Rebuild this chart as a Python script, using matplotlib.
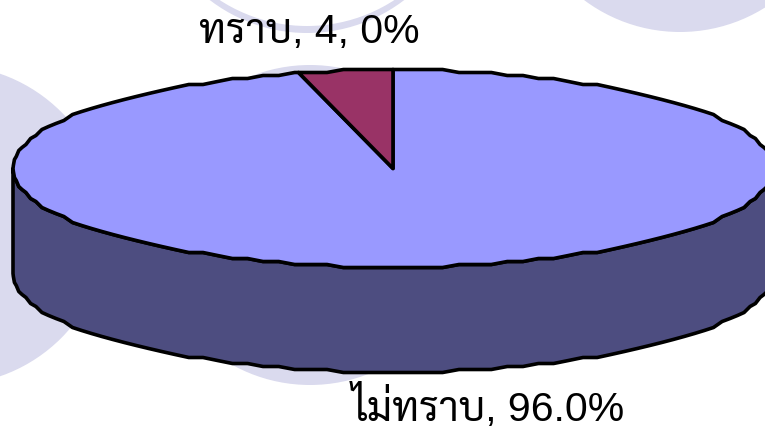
import numpy as np
import matplotlib
matplotlib.use("Agg")
import matplotlib.pyplot as plt
from matplotlib.patches import Circle, Polygon

# Data
labels = ["ไม่ทราบ", "ทราบ"]
values = [96.0, 4.0]
label_texts = ["ไม่ทราบ, 96.0%", "ทราบ, 4, 0%"]

# Pie geometry in pixels
cx, cy = 393, 168.5
rx, ry = 380, 98.5
depth = 105

top_color = "#9999FF"
side_color = "#4D4D80"
slice_color = "#993366"
bg_color = "#DADAEE"
font_list = ["Liberation Sans", "Sarabun", "DejaVu Sans"]

fig = plt.figure(figsize=(7.65, 4.3), dpi=100)
ax = fig.add_axes([0, 0, 1, 1])
ax.set_xlim(0, 765)
ax.set_ylim(430, 0)
ax.axis("off")

# Background circles
for x0, y0 in [(-52, 225), (310, 225), (680, -128), (307, -127)]:
    ax.add_patch(Circle((x0, y0), 160, fc=bg_color, ec="none", zorder=1))
ax.add_patch(Circle((307, -134), 160, fc="white", ec="none", zorder=1.5))


def rim(a0, a1, dy=0):
    # angles are clockwise from the top, same grid everywhere so edges line up
    step = 2.5
    lo, hi = min(a0, a1), max(a0, a1)
    inner = np.arange(np.ceil(lo / step) * step, hi, step)
    a = np.unique(np.concatenate([[lo], inner, [hi]]))
    if a0 > a1:
        a = a[::-1]
    t = np.radians(a)
    x = cx + rx * np.sin(t)
    # coarse rounding of y gives the rough edge of the original
    y = cy + np.round(-ry * np.cos(t) / 3.0) * 3.0
    return np.column_stack([x, y + dy])


# Side wall, front half only
wall = np.vstack([rim(90, 270), rim(270, 90, depth)])
ax.add_patch(Polygon(wall, fc=side_color, ec="black", lw=2.6, joinstyle="round", zorder=2))

# Top face, one wedge per value, running clockwise from 12 o'clock
angles = np.cumsum([0] + values) / sum(values) * 360
colors = [top_color, slice_color]
for i in range(len(values)):
    pts = np.vstack([[cx, cy], rim(angles[i], angles[i + 1])])
    ax.add_patch(Polygon(pts, fc=colors[i], ec="black", lw=2.6, joinstyle="round", zorder=3))

# Labels
ax.text(352, 421, label_texts[0], fontsize=29.5, family=font_list, ha="left", va="baseline", zorder=5)
ax.text(199, 43, label_texts[1], fontsize=29.5, family=font_list, ha="left", va="baseline", zorder=5)

fig.savefig("out.png", dpi=100)
